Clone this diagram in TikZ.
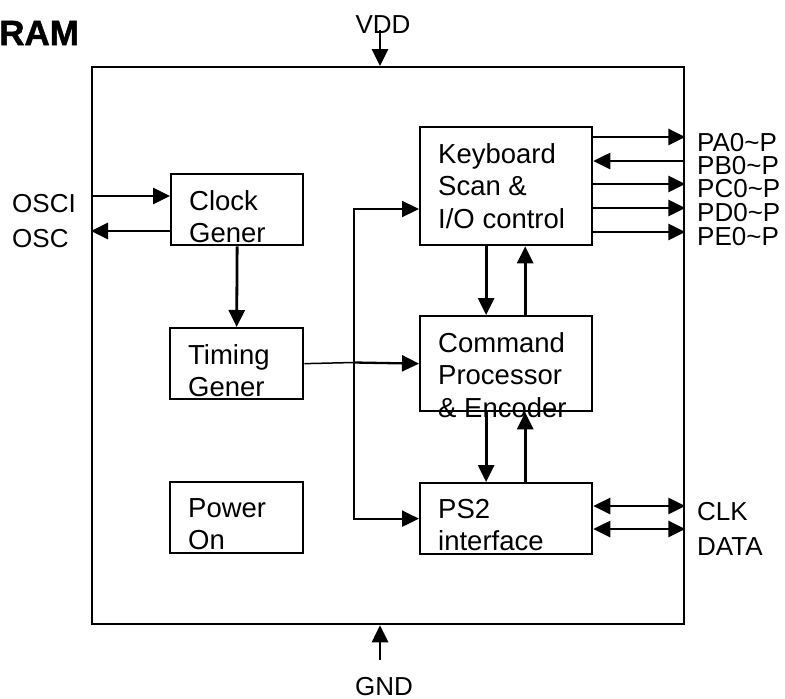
\documentclass[tikz,border=0pt]{standalone}
\usepackage{fontspec}
\setmainfont{Liberation Sans}
\newfontfamily\titlefont[FakeBold=1.5]{Liberation Sans Bold}
\usetikzlibrary{arrows.meta}

\begin{document}
\begin{tikzpicture}[
  x=1pt, y=-1pt,
  chipbox/.style={draw,line width=2.3pt,anchor=north west,inner sep=0pt,
    minimum width=592pt,minimum height=557pt},
  blk/.style={draw,line width=2.3pt,anchor=north west,inner sep=0pt,
    minimum width=133pt,minimum height=71pt},
  txt/.style={anchor=north west,align=left,inner sep=0pt,
    xshift=19pt,yshift=-17pt,font=\fontsize{27.5}{32.5}\selectfont},
  pin/.style={inner sep=0pt,font=\fontsize{26}{26}\selectfont},
  sig/.style={line width=2.8pt,-{Triangle[length=17pt,width=16pt]}},
  bidir/.style={line width=2.8pt,
    {Triangle[length=17pt,width=16pt]}-{Triangle[length=17pt,width=16pt]}},
  feed/.style={line width=1.5pt}]
\useasboundingbox (0,0) rectangle (785,699);

% title fragment
\node[anchor=base west,inner sep=0pt,
  font=\fontsize{35}{40}\selectfont\titlefont] (title) at (-1,45) {RAM};

% chip outline and blocks
\node[chipbox] (chip) at (91,66) {};
\node[blk,minimum width=132pt] (clk) at (170,173) {};
\node[blk] (tim) at (169,327) {};
\node[blk] (pwr) at (169,481) {};
\node[blk,minimum width=172pt,minimum height=118pt] (kbd) at (419,126) {};
\node[blk,minimum width=172pt,minimum height=95pt] (cmd) at (419,315) {};
\node[blk,minimum width=172pt] (ps2) at (419,482) {};

\node[txt] (clktxt) at (clk.north west) {Clock\\Gener};
\node[txt] (timtxt) at (tim.north west) {Timing\\Gener};
\node[txt] (pwrtxt) at (pwr.north west) {Power\\On};
\node[txt] (kbdtxt) at (kbd.north west) {Keyboard\\Scan \&\\I/O control};
\node[txt] (cmdtxt) at (cmd.north west) {Command\\Processor\\\& Encoder};
\node[txt] (ps2txt) at (ps2.north west) {PS2\\interface};

% pins
\node[pin,anchor=base] (vdd) at (383,33) {VDD};
\node[pin,anchor=base] (gnd) at (384,695) {GND};
\coordinate (vddpin) at (380,30);
\coordinate (gndpin) at (380,660);
\node[pin,anchor=base west] (osci) at (12,212) {OSCI};
\node[pin,anchor=base west] (osco) at (12,247) {OSC};
\node[pin,anchor=base west] (pa) at (697,151) {PA0\textasciitilde P};
\node[pin,anchor=base west] (pb) at (697,174) {PB0\textasciitilde P};
\node[pin,anchor=base west] (pc) at (697,197) {PC0\textasciitilde P};
\node[pin,anchor=base west] (pd) at (697,221) {PD0\textasciitilde P};
\node[pin,anchor=base west] (pe) at (697,245) {PE0\textasciitilde P};
\node[pin,anchor=base west] (clkpin) at (697,520) {CLK};
\node[pin,anchor=base west] (datapin) at (697,555) {DATA};

% supply
\draw[sig] (vddpin) -- (vddpin |- chip.north);
\draw[sig] (gndpin) -- (gndpin |- chip.south);

% oscillator
\draw[sig] (chip.west |- 0,196) -- (clk.west |- 0,196);
\draw[sig] (clk.west |- 0,231) -- (chip.west |- 0,231);
\draw[sig] (clk.south) -- (tim.north);

% timing bus
\coordinate (bus) at (354,362.5);
\draw[feed] (tim.east) -- (bus);
\draw[sig,line width=2.3pt] (bus) -- (cmd.west);
\draw[sig,line width=2.3pt] (bus) |- (kbd.west |- 0,209);
\draw[sig,line width=2.3pt] (bus) |- (ps2.west);

% keyboard port lines
\draw[sig] (kbd.east |- 0,137) -- (chip.east |- 0,137);
\draw[sig] (chip.east |- 0,161) -- (kbd.east |- 0,161);
\draw[sig] (kbd.east |- 0,184) -- (chip.east |- 0,184);
\draw[sig] (kbd.east |- 0,208) -- (chip.east |- 0,208);
\draw[sig] (kbd.east |- 0,232) -- (chip.east |- 0,232);

% internal data paths
\draw[sig] ([xshift=-20pt]kbd.south) -- ([xshift=-20pt]cmd.north);
\draw[sig] ([xshift=19pt]cmd.north) -- ([xshift=19pt]kbd.south);
\draw[sig] ([xshift=-20pt]cmd.south) -- ([xshift=-20pt]ps2.north);
\draw[sig] ([xshift=19pt]ps2.north) -- ([xshift=19pt]cmd.south);

% PS2 port
\draw[bidir] (ps2.east |- 0,506) -- (chip.east |- 0,506);
\draw[bidir] (ps2.east |- 0,529) -- (chip.east |- 0,529);
\end{tikzpicture}
\end{document}
